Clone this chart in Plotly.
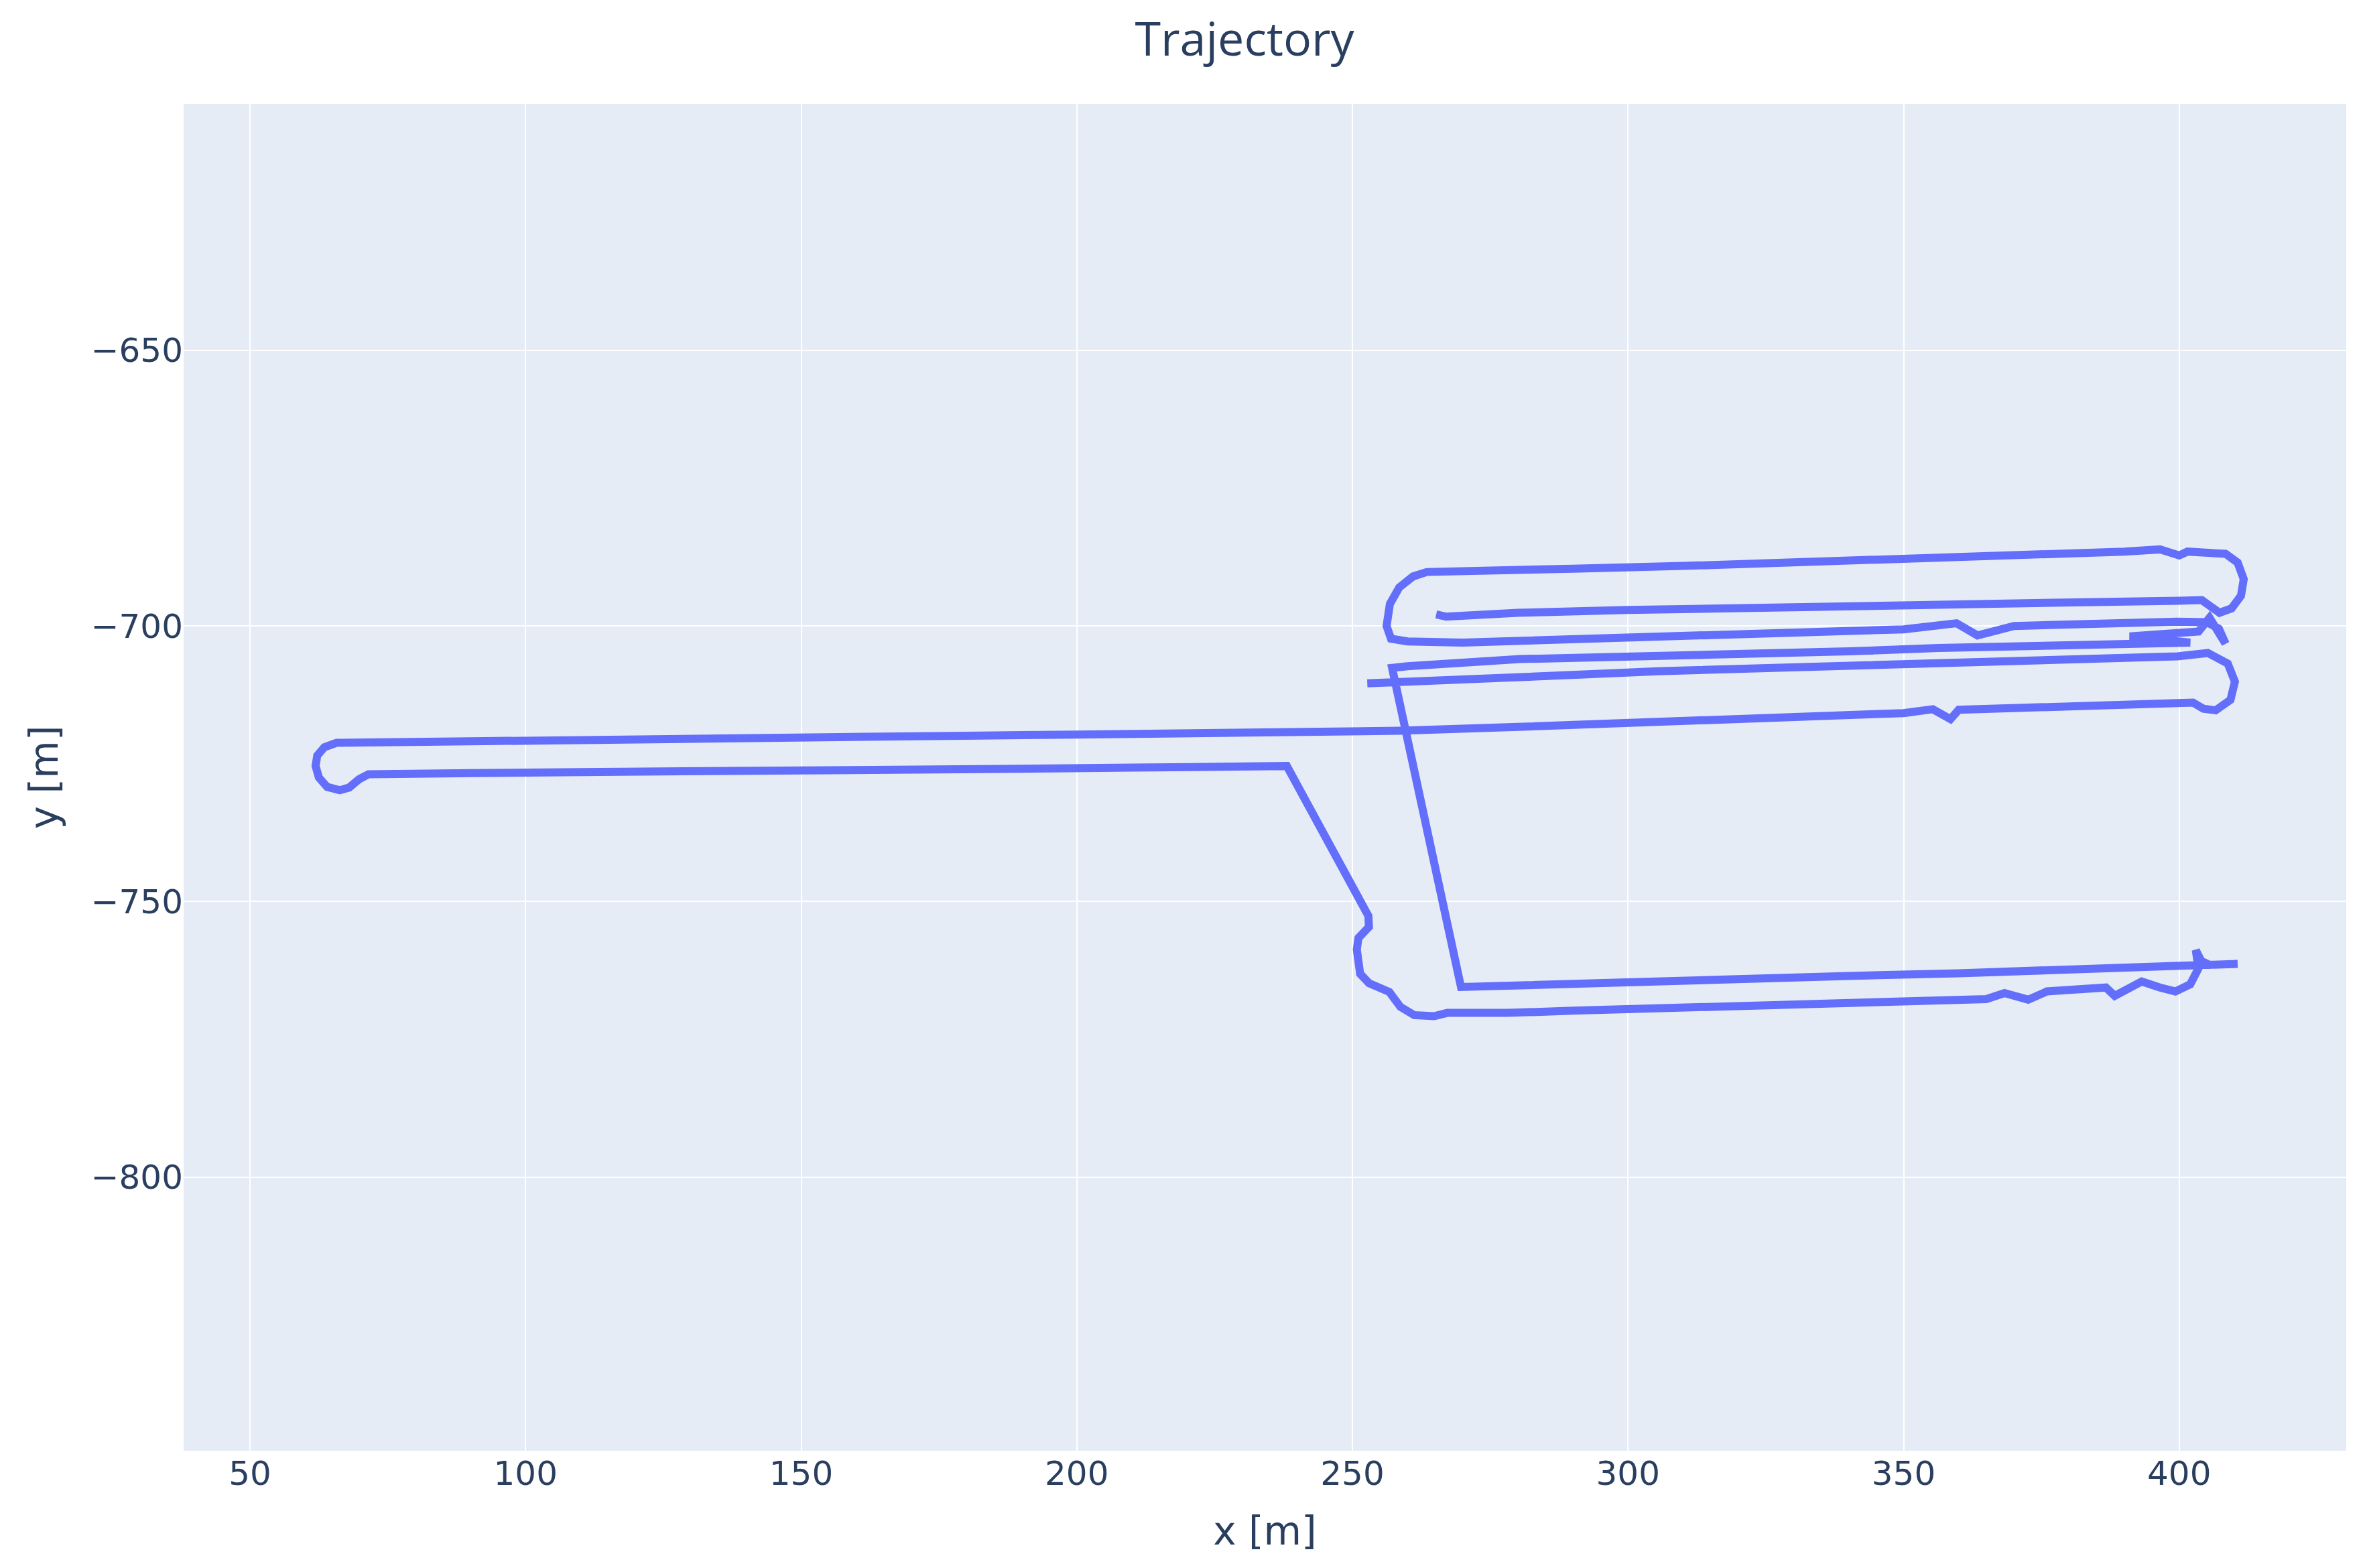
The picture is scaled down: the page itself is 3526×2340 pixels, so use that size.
import plotly.graph_objects as go

# trajectory pieces, in driving order (x [m], y [m])
lane_a_x = [252.7, 265, 278, 292, 305.4, 320, 332.7, 346, 360, 374, 387.4, 399.7]
lane_a_y = [-710.4, -709.8, -709.3, -708.8, -708.2, -707.8, -707.4, -707.0, -706.6, -706.3, -706.0, -705.5]

turn_a_x = [405.2, 408.8, 410.1, 409.3, 406.6, 404.4, 402.5]
turn_a_y = [-704.9, -706.8, -710.1, -713.4, -715.3, -715.0, -713.9]

long_back_x = [398, 385, 370, 360, 358.5, 355.3, 350, 335, 320, 300, 280, 258.6, 240, 220, 200, 180, 160, 140, 120, 100, 80, 68]
long_back_y = [-714.0, -714.4, -714.9, -715.2, -716.9, -715.1, -715.8, -716.4, -717.0, -717.6, -718.3, -719.0, -719.3, -719.5, -719.7, -719.9, -720.1, -720.3, -720.5, -720.7, -720.8, -720.9]

left_loop_x = [65.7, 63.5, 62.2, 61.9, 62.5, 64, 66.3, 68, 69.8, 71.5, 75]
left_loop_y = [-721.2, -722.0, -723.5, -725.4, -727.5, -729.2, -729.8, -729.3, -727.8, -726.9, -726.8]

long_out_x = [90, 110, 130, 150, 170, 190, 210, 230, 238.1]
long_out_y = [-726.7, -726.5, -726.4, -726.4, -726.1, -725.9, -725.7, -725.5, -725.4]

drop_x = [252.9, 253, 251.1, 250.8, 251.4, 253, 256.7, 258.7, 261.2, 264.8, 267.2, 278.2]
drop_y = [-752.6, -754.6, -756.6, -758.7, -763.1, -764.8, -766.4, -769.1, -770.6, -770.8, -770.2, -770.2]

south_out_x = [290, 313, 330, 350, 365, 368.3, 370.5, 372.6, 376, 380, 386.7, 388.3, 393.2, 396.5, 399.3, 402, 403.5, 403, 404, 405.5, 410.6]
south_out_y = [-769.8, -769.1, -768.6, -768.1, -767.7, -766.6, -767.2, -767.8, -766.3, -766.0, -765.6, -767.1, -764.5, -765.6, -766.3, -765.0, -762.1, -758.8, -760.8, -761.5, -761.3]

south_back_x = [404, 390, 378, 360, 340, 323.8, 300, 285, 269.7]
south_back_y = [-761.6, -762.0, -762.5, -763.0, -763.5, -763.9, -764.6, -765.1, -765.5]

climb_x = [257.2]
climb_y = [-707.6]

lane_b_x = [260, 280.4, 300, 316, 340, 356.3, 378, 390, 402, 391, 398, 403.5, 405.5, 406.5, 408.4, 407.2, 405]
lane_b_y = [-707.3, -706.0, -705.6, -705.3, -704.6, -704.0, -703.4, -703.2, -703.0, -701.9, -701.5, -701.0, -698.5, -700.0, -703.2, -700.5, -699.3]

lane_c_x = [399.7, 385, 370, 363.4, 359.6, 350, 330, 300, 280, 270, 260, 257, 256.2, 256.8, 258.5, 261, 263.5]
lane_c_y = [-699.2, -699.6, -700.0, -701.7, -699.5, -700.6, -701.2, -702.0, -702.6, -703.0, -702.8, -702.3, -700.0, -696.0, -693.0, -691.0, -690.2]

lane_d_x = [270, 290, 310, 330, 350, 370, 383.5, 390, 396.5, 398.5, 400, 401.5, 404, 408.4, 410.6, 411.7, 411.2, 409.5, 407.3, 405.5, 404.1]
lane_d_y = [-690.1, -689.6, -689.1, -688.5, -687.9, -687.3, -686.8, -686.5, -686.1, -686.6, -687.2, -686.5, -686.6, -686.9, -688.5, -691.5, -694.5, -696.8, -697.6, -696.2, -695.3]

lane_e_x = [400, 378, 350, 320, 300, 280, 269.6, 267, 265.2]
lane_e_y = [-695.4, -695.7, -696.2, -696.7, -697.1, -697.6, -698.0, -698.3, -697.9]

xs = (lane_a_x + turn_a_x + long_back_x + left_loop_x + long_out_x + drop_x
      + south_out_x + south_back_x + climb_x + lane_b_x + lane_c_x + lane_d_x + lane_e_x)
ys = (lane_a_y + turn_a_y + long_back_y + left_loop_y + long_out_y + drop_y
      + south_out_y + south_back_y + climb_y + lane_b_y + lane_c_y + lane_d_y + lane_e_y)

fig = go.Figure(go.Scatter(x=xs, y=ys, mode='lines', line={'color': '#636efa', 'width': 12}))

fig.update_layout(
    template='plotly',
    width=3526, height=2340,
    margin=dict(l=266, r=33, t=147, b=183),
    font=dict(family='DejaVu Sans', size=50, color='#2a3f5f'),
    title=dict(text='Trajectory', x=0.5244, xanchor='center', y=0.9786, yanchor='middle',
               font=dict(family='Open Sans', size=70)),
    showlegend=False,
)
fig.update_xaxes(title=dict(text='x [m]', font=dict(size=58), standoff=37), range=[37.96, 430.3],
                 gridwidth=2, zeroline=False)
fig.update_yaxes(title=dict(text='y [m]', font=dict(size=58), standoff=30), range=[-849.5, -605.4],
                 gridwidth=2, zeroline=False, scaleanchor='x', scaleratio=1)

fig.write_html("out.html")
